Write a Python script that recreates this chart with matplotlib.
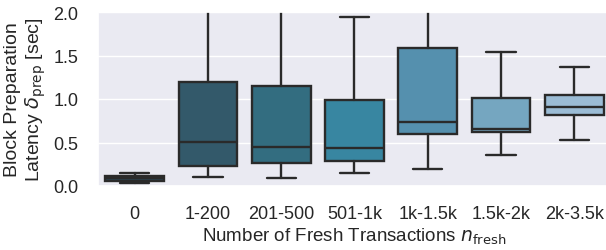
import numpy as np
import matplotlib
matplotlib.use("Agg")
import matplotlib.pyplot as plt
import seaborn as sns

# categories and box statistics (in seconds)
categories = ["0", "1-200", "201-500", "501-1k", "1k-1.5k", "1.5k-2k", "2k-3.5k"]
whislo = [0.035, 0.10, 0.09, 0.15, 0.20, 0.36, 0.53]
q1 = [0.06, 0.23, 0.26, 0.29, 0.60, 0.62, 0.82]
med = [0.09, 0.51, 0.45, 0.44, 0.74, 0.66, 0.91]
q3 = [0.115, 1.19, 1.15, 0.99, 1.59, 1.01, 1.05]
whishi = [0.15, 2.60, 2.70, 1.94, 2.50, 1.54, 1.37]
box_colors = ["#2c4350", "#33596a", "#336d80", "#3886a1", "#5590ae", "#75a6c0", "#9bbcd5"]

sns.set_theme(style="darkgrid")
plt.rcParams["font.family"] = ["Liberation Sans", "DejaVu Sans"]
plt.rcParams["mathtext.fontset"] = "dejavusans"

fig = plt.figure(figsize=(6.06, 2.51), dpi=100)
ax = fig.add_axes([98 / 606, 64 / 251, 513 / 606, 174 / 251])

stats = []
for i, c in enumerate(categories):
    stats.append({"label": c, "whislo": whislo[i], "q1": q1[i], "med": med[i],
                  "q3": q3[i], "whishi": whishi[i], "fliers": []})

line_col = "#2a2a2a"
lw = 1.7
bp = ax.bxp(stats, positions=np.arange(len(categories)), widths=0.8,
            patch_artist=True, showfliers=False,
            boxprops=dict(linewidth=lw, edgecolor=line_col),
            medianprops=dict(linewidth=lw, color=line_col),
            whiskerprops=dict(linewidth=lw, color=line_col),
            capprops=dict(linewidth=lw, color=line_col),
            capwidths=0.4)
for patch, col in zip(bp["boxes"], box_colors):
    patch.set_facecolor(col)

ax.set_xlim(-0.5, len(categories) - 0.5)
ax.set_ylim(0, 2.0)
ax.set_yticks([0, 0.5, 1.0, 1.5, 2.0])
ax.set_xticks(np.arange(len(categories)))
ax.set_xticklabels(categories)
ax.tick_params(axis="both", labelsize=13, colors="#262626")
ax.tick_params(axis="y", pad=8)
ax.tick_params(axis="x", pad=8)
ax.grid(axis="x", visible=False)

ax.set_xlabel(r"Number of Fresh Transactions $n_{\rm fresh}$", fontsize=13.5, color="#262626",
              labelpad=2)
ax.set_ylabel("Block Preparation\n" + r"Latency $\delta_{\rm prep}$ [sec]", fontsize=14,
              color="#262626", linespacing=1.15, labelpad=4)

fig.savefig("out.png", dpi=100)
